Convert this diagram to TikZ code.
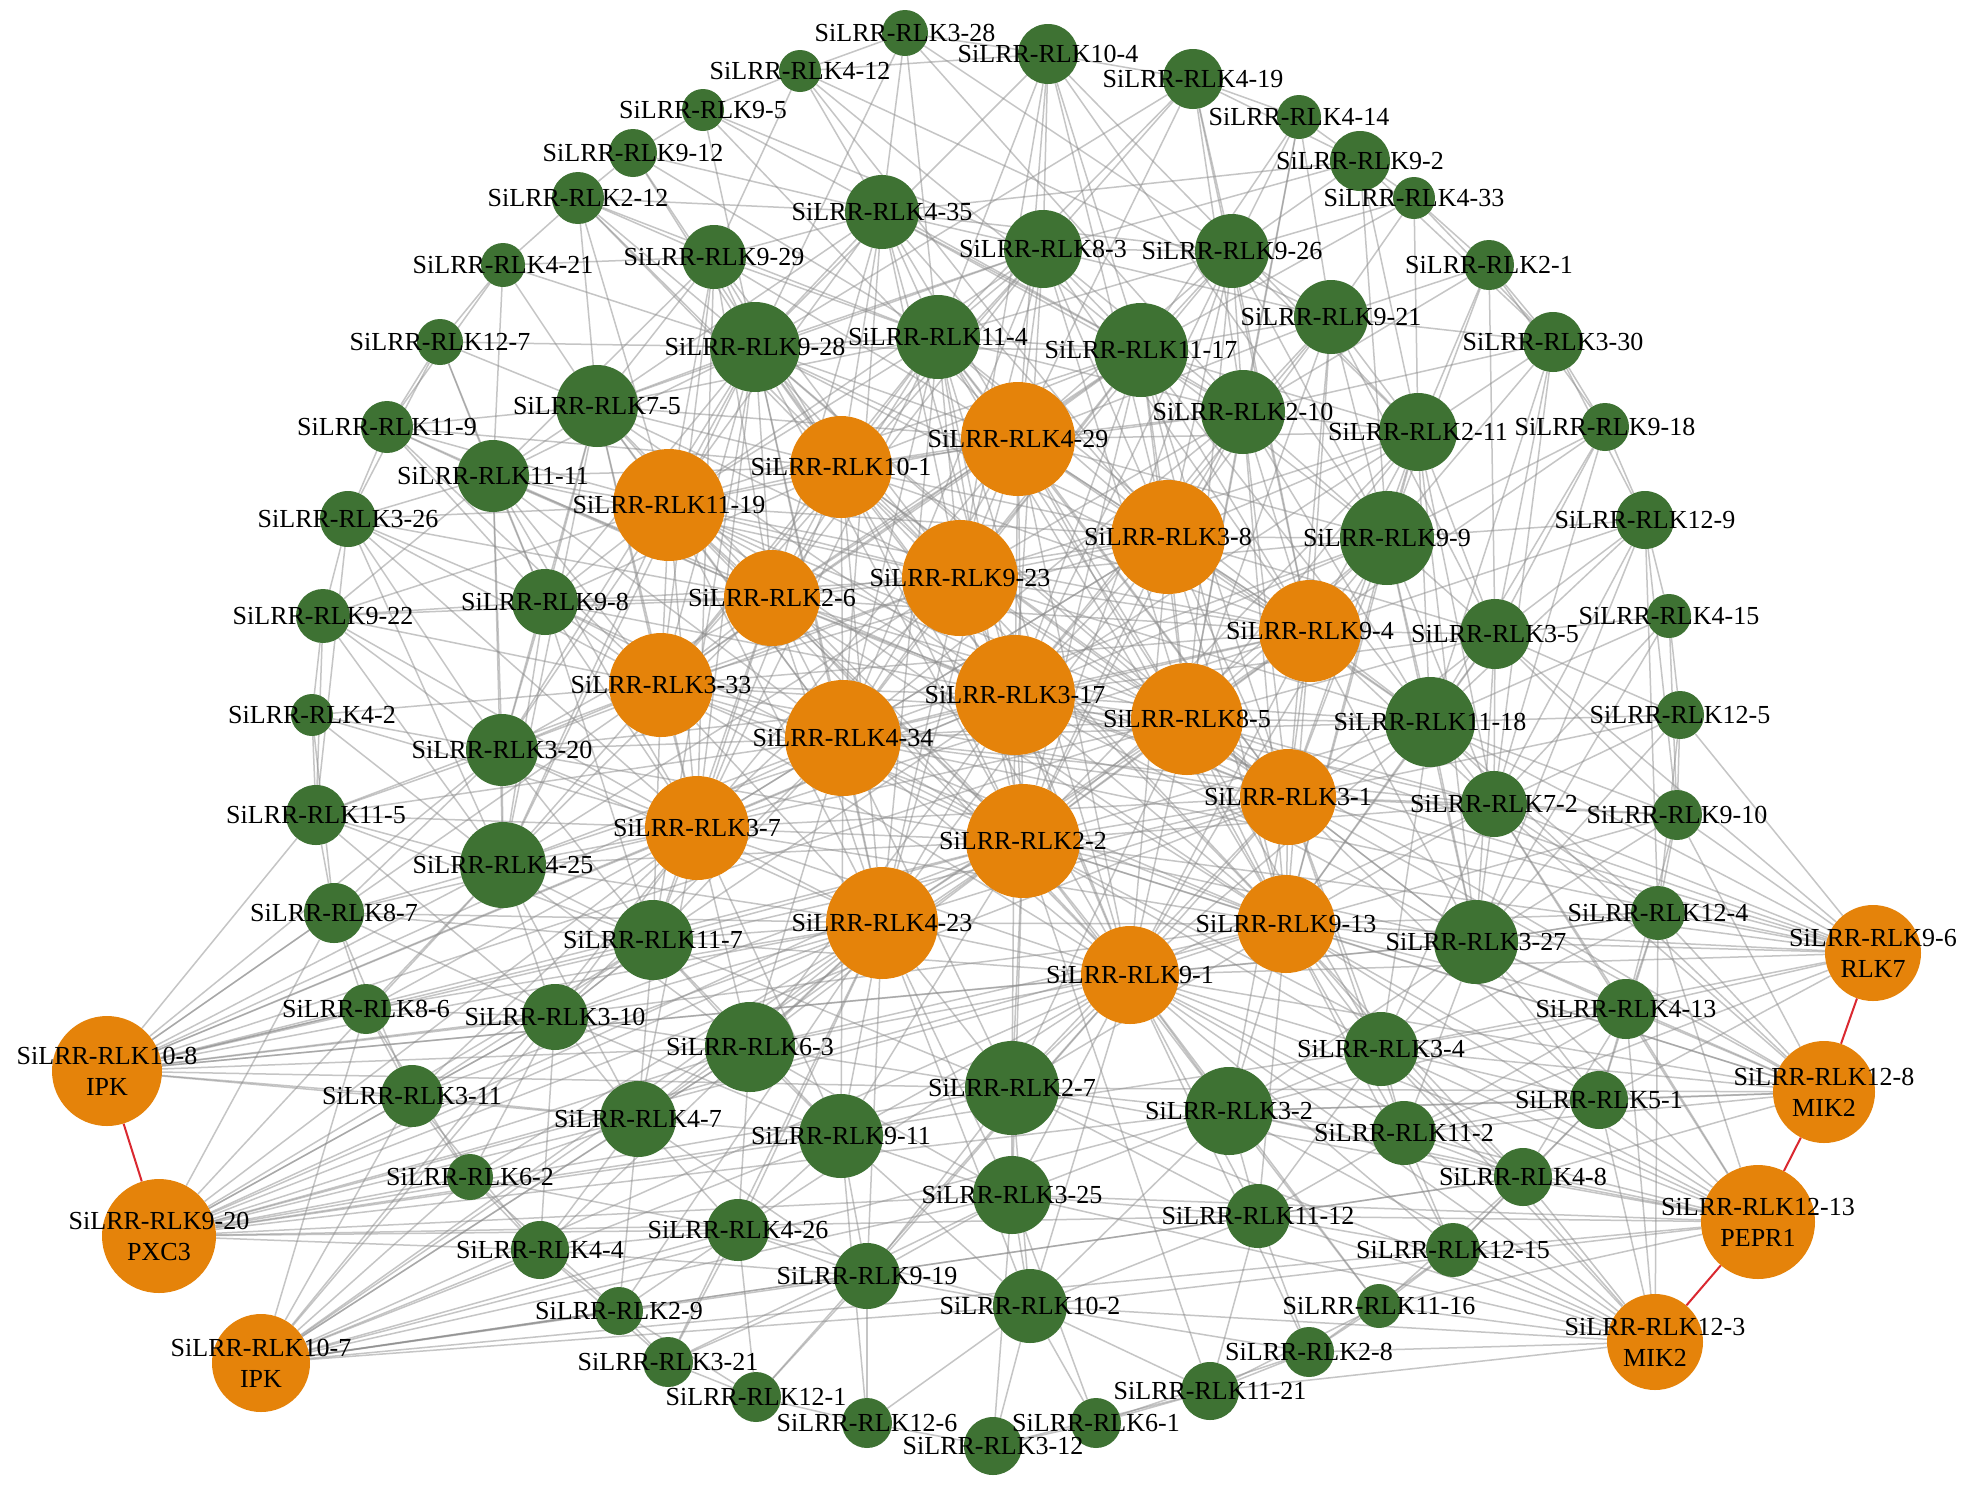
\documentclass[tikz,border=0pt]{standalone}
\usepackage{fontspec}
\setmainfont{Liberation Serif}
\usetikzlibrary{backgrounds}
\definecolor{leafgreen}{RGB}{62,114,51}
\definecolor{huborange}{RGB}{229,131,10}
\definecolor{linkred}{RGB}{218,40,48}
\tikzset{
  gnode/.style={circle,fill=leafgreen,inner sep=0pt},
  onode/.style={circle,fill=huborange,inner sep=0pt},
  lbl/.style={inner sep=0pt,font=\fontsize{26}{31}\selectfont,align=center},
  ppiedge/.style={draw=black!45,line width=1.5pt,opacity=0.5},
  rededge/.style={draw=linkred,line width=2pt}
}
% name/x/y/radius
\def\greennodes{3-28/905/33/23, 4-12/800/71/21, 10-4/1048/54/30, 4-19/1193/79/30,
  9-5/703/110/21, 4-14/1299/117/22, 9-12/633/153/24, 9-2/1360/161/30,
  2-12/578/198/26, 4-35/882/212/37, 4-33/1414/198/21, 8-3/1043/249/39,
  9-29/714/257/32, 9-26/1232/251/37, 4-21/503/265/22, 2-1/1489/265/25,
  9-21/1331/317/37, 12-7/440/342/23, 9-28/755/347/45, 11-4/938/337/42,
  11-17/1141/350/47, 3-30/1553/342/30, 7-5/597/406/41, 2-10/1243/412/42,
  11-9/387/427/26, 2-11/1418/432/39, 9-18/1605/427/24, 11-11/493/476/36,
  3-26/348/519/28, 9-9/1387/538/47, 12-9/1645/520/29, 9-22/323/616/27,
  9-8/545/602/33, 3-5/1495/634/35, 4-15/1669/616/22, 4-2/312/715/21,
  11-18/1430/722/45, 12-5/1680/715/24, 3-20/502/750/36, 11-5/316/815/30,
  7-2/1494/804/33, 9-10/1677/815/25, 4-25/503/865/43, 8-7/334/913/30,
  11-7/653/940/40, 3-27/1476/942/42, 12-4/1658/913/27, 8-6/366/1009/25,
  3-10/555/1017/33, 4-13/1626/1009/30, 6-3/750/1047/45, 3-4/1381/1049/37,
  3-11/412/1096/31, 2-7/1012/1088/47, 5-1/1599/1100/29, 4-7/638/1119/38,
  9-11/841/1136/42, 3-2/1229/1111/44, 11-2/1404/1133/32, 6-2/470/1177/23,
  4-8/1523/1177/29, 3-25/1012/1195/39, 4-4/540/1250/29, 4-26/738/1230/31,
  11-12/1258/1216/32, 12-15/1453/1250/27, 9-19/867/1276/33, 10-2/1030/1306/37,
  11-16/1379/1306/22, 2-9/619/1311/24, 2-8/1309/1352/25, 3-21/668/1362/25,
  12-1/756/1397/25, 11-21/1210/1391/29, 12-6/867/1423/25, 6-1/1096/1423/25,
  3-12/993/1446/29}
\def\hubnodes{11-19/669/505/56, 10-1/841/467/51, 4-29/1018/439/57, 3-8/1168/537/57,
  9-23/960/578/58, 2-6/772/598/48, 9-4/1310/631/51, 3-33/661/685/52,
  3-17/1015/695/60, 4-34/843/738/58, 8-5/1187/719/56, 3-1/1288/797/48,
  3-7/697/828/52, 2-2/1023/841/57, 4-23/882/923/56, 9-13/1286/924/49,
  9-1/1130/975/49}
\def\hubnames{11-19,10-1,4-29,3-8,9-23,2-6,9-4,3-33,3-17,4-34,8-5,3-1,3-7,2-2,4-23,9-13,9-1}
% name/x/y/radius/known homologue
\def\knownnodes{10-8/107/1071/55/IPK, 9-20/159/1236/57/PXC3, 10-7/261/1363/49/IPK,
  9-6/1873/953/48/RLK7, 12-8/1824/1092/51/MIK2, 12-13/1758/1222/57/PEPR1,
  12-3/1655/1342/48/MIK2}

\begin{document}
\begin{tikzpicture}[x=1pt,y=-1pt]
  \path[use as bounding box] (0,0) rectangle (1965,1484);

  % circles
  \foreach \n/\x/\y/\r in \greennodes
    \node[gnode,minimum size=2*\r] (R\n) at (\x,\y) {};
  \foreach \n/\x/\y/\r in \hubnodes
    \node[onode,minimum size=2*\r] (R\n) at (\x,\y) {};
  \foreach \n/\x/\y/\r/\h in \knownnodes
    \node[onode,minimum size=2*\r] (R\n) at (\x,\y) {};

  \begin{scope}[on background layer]
    \fill[white] (0,0) rectangle (1965,1484);
    % hubs are all linked
    \foreach \a [count=\i] in \hubnames {
      \foreach \b [count=\j] in \hubnames {
        \ifnum\j>\i \draw[ppiedge] (R\a) -- (R\b); \fi
      }
    }
    % links of the other members
    \foreach \s/\nbrs in {
      3-28/{4-12,10-4,4-35,11-4,9-26,2-10,9-28},
      4-12/{9-5,10-4,4-35,9-21,3-8,11-17,9-29},
      10-4/{4-19,8-3,11-4,9-28,4-29,11-17,9-9,2-11,3-8,9-23},
      4-19/{4-14,9-2,8-3,11-4,9-26,4-29,9-28,2-10,9-4},
      9-5/{9-12,9-28,8-3,4-29,11-17},
      4-14/{9-2,9-26,2-10,9-21,11-17,8-5},
      9-12/{2-12,9-28,4-35,11-4,10-1},
      9-2/{4-33,9-26,2-11,9-9,8-3,4-35,3-30},
      2-12/{4-21,9-29,9-28,7-5,4-35,11-4,10-1,11-19,9-23},
      4-35/{9-29,8-3,9-28,11-4,11-17,10-1,4-29,2-6,9-23,3-17,3-8,2-10,7-5,11-19,9-26,4-34},
      4-33/{2-1,9-26,9-21,2-11,3-30,11-17},
      8-3/{9-26,11-4,11-17,9-28,4-29,10-1,9-23,3-8,2-6,3-17,2-10,9-4,9-21,7-5,11-19,4-34,8-5,3-33},
      9-29/{4-21,9-28,11-4,7-5,10-1,11-19,2-6,3-33,4-29,11-11,9-23,3-7},
      9-26/{9-21,11-17,2-10,11-4,4-29,3-8,9-23,9-4,2-11,9-9,8-5,3-17,2-2},
      4-21/{12-7,11-11,7-5,9-28,11-9},
      2-1/{3-30,9-21,2-11,9-9,2-10,9-18,3-5},
      9-21/{2-10,11-17,3-8,9-4,2-11,4-29,9-9,8-5,3-30,3-5,3-17,3-1},
      12-7/{11-9,11-11,7-5,9-28,9-8,3-26},
      9-28/{11-4,7-5,11-19,10-1,2-6,3-33,4-29,9-23,3-17,4-34,3-7,11-11,9-8,3-20,11-17,3-8,8-5,2-2,4-25,4-23,9-4,3-1,11-7},
      11-4/{11-17,10-1,4-29,9-23,2-6,11-19,3-8,3-17,4-34,3-33,8-5,9-4,2-2,3-7,7-5,2-10,3-1,9-13,4-23,9-1},
      11-17/{2-10,4-29,3-8,9-23,10-1,9-4,3-17,8-5,2-6,4-34,3-1,2-11,9-9,2-2,11-19,3-33,9-13,11-18},
      3-30/{9-18,2-11,9-9,3-5,12-9,2-10,11-18,7-2},
      7-5/{11-11,11-19,10-1,2-6,3-33,9-8,3-20,4-29,9-23,4-34,3-7,11-9,4-25,3-17,2-2},
      2-10/{2-11,3-8,4-29,9-4,9-9,3-17,8-5,9-23,3-1,11-18,10-1,2-2,9-13,4-34},
      11-9/{11-11,3-26,11-19,9-8,2-6,3-33,10-1},
      2-11/{9-9,3-8,9-4,8-5,3-17,3-5,11-18,3-1,9-23,4-29,7-2,9-13,3-27,2-2},
      9-18/{12-9,3-5,9-9,11-18,7-2,9-4},
      11-11/{3-26,11-19,9-8,2-6,3-33,10-1,9-23,3-20,4-34,3-7,4-25,9-22,3-17},
      3-26/{9-22,9-8,11-19,3-33,3-20,2-6,4-25,11-5,3-7},
      9-9/{3-8,9-4,8-5,3-5,11-18,3-1,3-17,9-23,7-2,2-2,9-13,4-29,12-9,3-27,9-1,4-34},
      12-9/{3-5,4-15,11-18,9-4,7-2,9-10,12-4,3-27},
      9-22/{4-2,9-8,3-20,11-5,3-33,11-19,4-25,3-7,2-6},
      9-8/{11-19,2-6,3-33,3-20,9-23,10-1,4-34,3-7,4-25,3-17,11-7,2-2},
      3-5/{11-18,9-4,8-5,3-1,7-2,3-8,4-15,12-5,9-10,3-27,9-13,3-17},
      4-15/{12-5,11-18,7-2,3-27,9-10},
      4-2/{11-5,3-20,4-25,3-33,8-7,3-7},
      11-18/{9-4,8-5,3-1,7-2,3-8,3-17,2-2,9-13,3-27,9-23,12-5,9-10,4-29,9-1,4-34,12-4,3-4},
      12-5/{9-10,7-2,3-27,12-4,3-1},
      3-20/{3-33,4-25,3-7,11-5,11-19,2-6,4-34,9-23,11-7,8-7,3-17,2-2,4-23},
      11-5/{8-7,4-25,3-7,3-33,11-7,3-10,4-34},
      7-2/{3-1,8-5,9-13,3-27,9-4,2-2,9-10,12-4,3-17,9-1,4-13,3-4,4-34},
      9-10/{12-4,3-27,3-1,4-13,9-13},
      4-25/{3-7,3-33,11-7,8-7,4-34,2-6,3-10,4-23,9-23,3-17,2-2,6-3,8-6,11-19,4-7},
      8-7/{8-6,3-10,11-7,3-7,3-11,4-23},
      11-7/{3-7,4-23,4-34,3-10,6-3,2-2,3-33,4-7,9-11,2-6,3-17,9-1,2-7},
      3-27/{9-13,3-1,12-4,4-13,3-4,9-1,2-2,8-5,9-4,3-2,11-2,5-1,3-17},
      12-4/{4-13,9-13,3-27,5-1,3-4},
      8-6/{3-10,3-11,6-2,4-23,3-7},
      3-10/{3-11,6-3,4-7,3-7,4-23,11-7,6-2,4-34,2-2,4-4,9-11},
      4-13/{5-1,3-4,9-13,11-2,4-8,3-2},
      6-3/{4-7,9-11,4-23,2-7,3-7,2-2,4-34,4-26,9-1,3-17,3-25,9-13},
      3-4/{9-13,9-1,3-2,11-2,3-1,2-2,5-1,4-8,11-12,8-5},
      3-11/{6-2,4-7,3-7,4-4,4-23,11-7},
      2-7/{9-1,4-23,2-2,9-11,3-2,3-25,9-13,3-17,4-34,10-2,11-12,9-19,3-1,8-5},
      5-1/{11-2,4-8,9-13,3-2,12-15,3-1},
      4-7/{9-11,4-23,4-26,6-2,4-4,3-7,2-2,9-19,2-9},
      9-11/{4-23,9-1,3-25,9-19,4-26,2-2,4-34,10-2,3-7},
      3-2/{9-1,9-13,11-2,11-12,3-25,2-2,4-8,10-2,3-1,11-16},
      11-2/{4-8,9-13,11-12,12-15,3-1,9-1},
      6-2/{4-4,2-9,4-23,4-26},
      4-8/{12-15,11-12,9-13,11-16,9-1},
      3-25/{10-2,9-19,9-1,11-12,4-23,2-2,3-12,6-1},
      4-4/{2-9,4-26,4-23,3-21,9-19},
      4-26/{9-19,2-9,3-21,4-23,9-1,12-1,10-2},
      11-12/{9-1,10-2,11-21,2-8,12-15,9-13},
      12-15/{11-16,9-13,2-8,9-1},
      9-19/{10-2,12-1,12-6,4-23,9-1,3-21},
      10-2/{3-12,6-1,12-6,11-21,9-1,4-23,2-8},
      11-16/{2-8,11-21,9-1},
      2-9/{3-21,12-1,4-23},
      2-8/{11-21,6-1,9-1},
      3-21/{12-1,4-23,3-25},
      12-1/{12-6,9-1},
      11-21/{6-1,3-12,2-2},
      12-6/{3-12,9-11},
      6-1/{3-12},
      10-8/{8-6,3-11,8-7,4-25,3-10,11-7,3-7,3-20,4-23,6-3,2-2,3-1,9-13,3-27,9-1,4-34,3-33,11-5,4-7,2-7,3-17,8-5},
      9-20/{3-11,6-2,4-4,3-10,4-7,6-3,8-7,4-25,3-7,11-7,9-11,4-23,2-7,3-2,9-1,3-1,2-2,3-25,11-12,4-26,9-13,3-4},
      10-7/{3-11,6-2,4-4,2-9,4-26,9-19,4-7,8-6,3-10,4-23,6-3,9-11,3-25,10-2,11-12,3-2,2-2,9-1,12-15,4-8,3-7},
      9-6/{12-4,9-10,12-5,7-2,3-27,11-18,3-1,9-13,9-1,2-2,3-4,4-13,5-1,8-5,3-17,3-5,4-34,11-2},
      12-8/{4-13,5-1,12-4,3-27,3-4,11-2,9-13,9-1,2-7,3-2,2-2,7-2,4-8,3-1,11-18,9-10,8-5},
      12-13/{4-8,5-1,11-2,12-15,3-4,3-2,11-12,9-13,9-1,2-7,3-25,4-13,12-4,3-27,7-2,10-2,11-16,2-2},
      12-3/{12-15,11-16,2-8,4-8,11-12,11-2,3-2,10-2,3-25,5-1,4-13,9-1,2-7,9-13,3-4,11-21,12-4}} {
      \foreach \b in \nbrs
        \draw[ppiedge] (R\s) -- (R\b);
    }
    % known pairs
    \draw[rededge] (R10-8) -- (R9-20);
    \draw[rededge] (R9-6) -- (R12-8);
    \draw[rededge] (R12-8) -- (R12-13);
    \draw[rededge] (R12-13) -- (R12-3);
  \end{scope}

  % labels on top
  \foreach \n/\x/\y/\r in \greennodes
    \node[lbl] at (R\n) {SiLRR-RLK\n};
  \foreach \n/\x/\y/\r in \hubnodes
    \node[lbl] at (R\n) {SiLRR-RLK\n};
  \foreach \n/\x/\y/\r/\h in \knownnodes
    \node[lbl] at (R\n) {SiLRR-RLK\n\\\h};
\end{tikzpicture}
\end{document}
